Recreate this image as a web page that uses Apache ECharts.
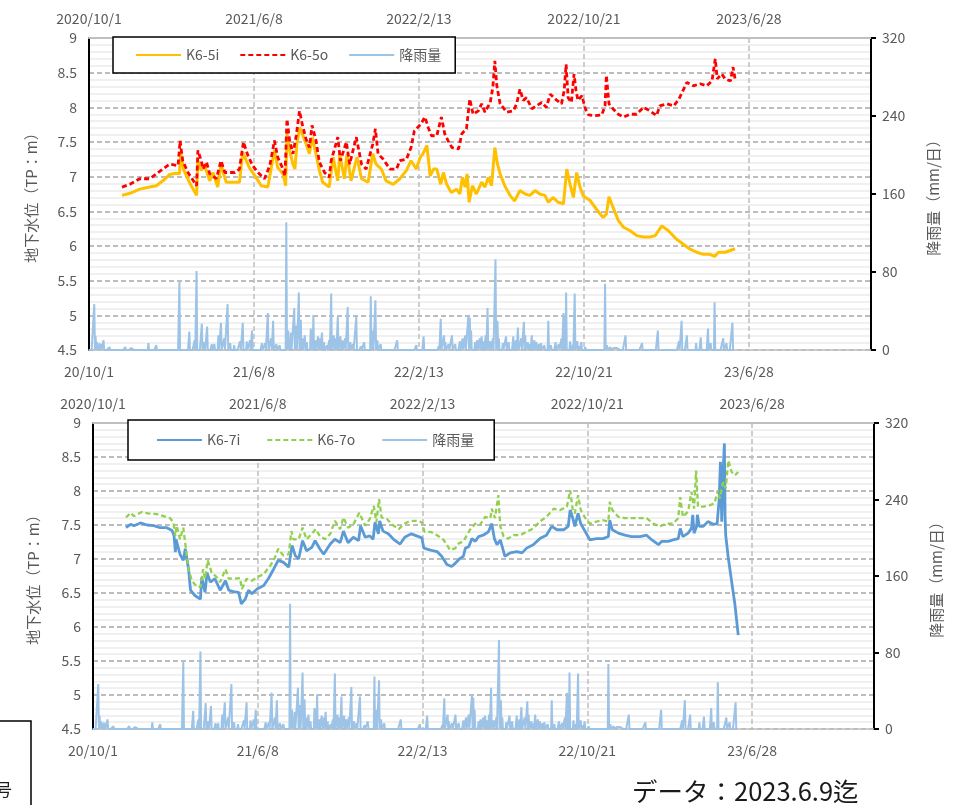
<!DOCTYPE html>
<html><head><meta charset="utf-8">
<script src="https://cdn.jsdelivr.net/npm/echarts@6/dist/echarts.min.js"></script>
<style>html,body{margin:0;padding:0;background:#fff;}#c{width:954px;height:805px;}</style>
</head><body><div id="c"></div><script>
// x values: days since 2020/10/1
const topTickLabels = ['2020/10/1','2021/6/8','2022/2/13','2022/10/21','2023/6/28'];
const bottomTickLabels = ['20/10/1','21/6/8','22/2/13','22/10/21','23/6/28'];
const levelTicks = [4.5,5,5.5,6,6.5,7,7.5,8,8.5,9];
const rainTicks = [0,80,160,240,320];

const k65i = [[50,6.73],[62,6.76],[77,6.82],[92,6.85],[102,6.87],[112,6.94],[122,7.03],[132,7.05],[137,7.04],[139,7.35],[143,7.11],[152,6.92],[163,6.73],[165,7.23],[170,7.09],[175,7.16],[183,6.94],[188,7.06],[195,6.85],[200,7.18],[205,7.01],[208,6.92],[228,6.92],[233,7.35],[243,7.13],[253,6.99],[261,6.87],[271,6.85],[281,7.38],[286,7.13],[294,7.04],[298,6.87],[300,7.62],[304,7.38],[309,7.18],[312,7.11],[315,7.47],[319,7.71],[323,7.62],[329,7.47],[334,7.33],[338,7.57],[344,7.33],[349,7.09],[354,6.92],[364,6.85],[370,7.28],[377,6.94],[380,7.33],[387,6.97],[391,7.33],[397,6.94],[406,7.28],[413,6.97],[423,6.92],[430,7.33],[435,7.18],[443,7.11],[450,6.94],[461,6.89],[471,6.97],[481,7.09],[488,7.23],[496,7.11],[502,7.28],[506,7.33],[509,7.33],[512,7.45],[517,7.01],[522,7.11],[527,7.11],[533,6.89],[537,7.06],[542,6.89],[549,6.77],[557,6.82],[562,6.75],[566,6.99],[570,6.85],[573,7.04],[576,6.63],[581,6.87],[587,6.75],[595,6.92],[600,6.85],[605,6.99],[610,6.87],[615,7.42],[619,7.18],[623,7.04],[630,6.87],[638,6.73],[645,6.65],[653,6.80],[661,6.75],[668,6.73],[676,6.80],[683,6.75],[691,6.73],[696,6.63],[703,6.70],[711,6.63],[719,6.61],[724,7.11],[729,6.89],[734,6.70],[739,7.06],[744,6.85],[749,6.72],[759,6.66],[769,6.53],[779,6.41],[784,6.46],[788,6.71],[794,6.56],[802,6.37],[810,6.27],[820,6.22],[830,6.15],[840,6.13],[850,6.13],[858,6.15],[868,6.29],[878,6.22],[890,6.10],[900,6.03],[910,5.96],[921,5.91],[931,5.88],[941,5.88],[948,5.85],[954,5.91],[964,5.91],[979,5.96]];

const k65o = [[50,6.85],[62,6.89],[77,6.97],[92,6.97],[102,7.04],[112,7.11],[122,7.18],[135,7.16],[138,7.52],[142,7.23],[150,7.06],[163,6.87],[165,7.38],[170,7.23],[173,7.11],[178,7.21],[183,7.04],[193,6.97],[200,7.23],[206,7.06],[221,7.06],[228,7.11],[234,7.50],[241,7.30],[248,7.16],[256,7.06],[266,6.97],[274,7.16],[281,7.52],[286,7.28],[293,7.13],[297,7.01],[300,7.83],[304,7.52],[309,7.33],[314,7.59],[319,7.95],[323,7.76],[329,7.54],[334,7.42],[338,7.74],[344,7.52],[349,7.21],[357,7.06],[364,6.99],[367,7.23],[377,7.57],[381,7.23],[390,7.50],[395,7.18],[405,7.57],[413,7.18],[420,7.11],[430,7.47],[434,7.69],[438,7.33],[446,7.25],[456,7.11],[466,7.11],[471,7.23],[481,7.25],[488,7.42],[493,7.66],[503,7.76],[509,7.86],[514,7.71],[519,7.59],[527,7.59],[534,7.86],[539,7.62],[544,7.52],[550,7.42],[560,7.40],[565,7.62],[572,7.69],[577,8.12],[582,7.90],[590,7.95],[595,8.05],[600,7.93],[608,8.07],[612,8.29],[615,8.67],[618,8.31],[623,8.05],[633,7.93],[643,7.95],[648,8.05],[653,8.26],[658,8.10],[663,8.14],[671,7.98],[678,8.02],[686,8.07],[693,8.00],[699,8.19],[709,8.10],[716,8.05],[720,8.24],[723,8.62],[726,8.14],[731,8.07],[735,8.48],[738,8.24],[741,8.10],[747,8.17],[752,7.98],[757,7.89],[767,7.88],[777,7.89],[782,8.02],[784,8.46],[788,8.05],[794,7.98],[802,7.90],[810,7.86],[820,7.90],[830,7.90],[840,8.00],[850,7.95],[860,7.88],[865,8.02],[876,8.05],[886,8.02],[894,8.12],[901,8.26],[906,8.36],[916,8.31],[926,8.34],[936,8.31],[944,8.38],[949,8.70],[952,8.41],[959,8.48],[964,8.41],[972,8.38],[976,8.58],[979,8.41]];

const k67i = [[50,7.46],[57,7.51],[62,7.49],[72,7.53],[82,7.50],[92,7.49],[102,7.46],[112,7.46],[120,7.42],[123,7.34],[125,7.10],[126,7.29],[132,7.07],[137,6.98],[140,7.15],[145,6.85],[148,6.54],[155,6.46],[163,6.41],[165,6.73],[170,6.51],[173,6.80],[178,6.66],[185,6.71],[193,6.54],[201,6.68],[206,6.54],[213,6.52],[221,6.51],[225,6.34],[231,6.41],[236,6.54],[241,6.49],[249,6.56],[259,6.61],[266,6.71],[274,6.85],[281,6.98],[289,6.95],[297,6.88],[302,7.20],[307,7.05],[312,7.00],[318,7.27],[324,7.12],[332,7.17],[337,7.27],[344,7.15],[350,7.07],[360,7.22],[367,7.29],[375,7.24],[380,7.41],[387,7.24],[395,7.32],[403,7.27],[406,7.49],[413,7.32],[420,7.34],[425,7.29],[428,7.54],[433,7.37],[435,7.56],[440,7.41],[448,7.37],[456,7.29],[466,7.22],[473,7.32],[483,7.37],[491,7.34],[499,7.31],[502,7.16],[512,7.13],[522,7.11],[529,7.04],[537,6.92],[544,6.89],[550,6.94],[557,7.01],[562,7.04],[565,7.16],[570,7.18],[575,7.30],[580,7.26],[585,7.33],[592,7.35],[600,7.40],[605,7.52],[609,7.30],[613,7.21],[618,7.28],[625,7.04],[633,7.09],[643,7.11],[651,7.09],[658,7.16],[668,7.21],[678,7.30],[688,7.35],[696,7.48],[704,7.43],[714,7.43],[721,7.48],[724,7.72],[728,7.60],[731,7.48],[736,7.67],[740,7.52],[747,7.40],[754,7.28],[764,7.30],[774,7.30],[782,7.33],[784,7.57],[788,7.43],[797,7.38],[807,7.35],[817,7.33],[830,7.33],[840,7.35],[848,7.28],[858,7.21],[863,7.26],[873,7.26],[880,7.28],[888,7.30],[891,7.45],[895,7.33],[903,7.38],[908,7.45],[910,7.65],[912,7.38],[916,7.48],[917,7.65],[920,7.48],[926,7.48],[933,7.55],[941,7.51],[947,7.52],[950,7.87],[952,8.43],[954,7.55],[956,8.28],[958,8.70],[959,7.65],[960,7.35],[964,7.01],[969,6.67],[974,6.33],[979,5.88]];

const k67o = [[50,7.61],[57,7.68],[62,7.63],[74,7.69],[84,7.67],[97,7.66],[107,7.63],[117,7.60],[122,7.54],[125,7.34],[127,7.49],[132,7.29],[137,7.46],[141,7.15],[145,6.85],[150,6.68],[158,6.59],[163,6.59],[167,6.85],[170,6.71],[174,6.98],[180,6.80],[188,6.73],[193,6.66],[201,6.85],[206,6.71],[213,6.71],[223,6.72],[226,6.56],[233,6.71],[241,6.68],[249,6.73],[259,6.78],[269,6.90],[276,7.02],[281,7.15],[289,7.05],[297,7.07],[301,7.41],[304,7.29],[312,7.29],[318,7.46],[324,7.29],[332,7.37],[338,7.44],[344,7.34],[352,7.29],[360,7.37],[367,7.56],[375,7.44],[380,7.61],[387,7.46],[395,7.51],[404,7.68],[413,7.49],[420,7.59],[426,7.78],[430,7.54],[434,7.88],[438,7.61],[446,7.59],[453,7.51],[464,7.44],[471,7.51],[481,7.56],[491,7.56],[499,7.54],[503,7.40],[512,7.40],[522,7.35],[532,7.28],[542,7.13],[550,7.16],[555,7.23],[562,7.26],[572,7.43],[580,7.52],[587,7.50],[595,7.62],[603,7.60],[605,7.74],[610,7.60],[615,7.94],[618,7.48],[623,7.33],[630,7.30],[638,7.35],[648,7.35],[658,7.40],[668,7.45],[678,7.55],[688,7.62],[699,7.74],[709,7.72],[719,7.77],[724,8.01],[728,7.72],[731,7.67],[736,7.94],[740,7.72],[747,7.60],[754,7.52],[764,7.55],[774,7.57],[782,7.55],[784,7.84],[788,7.72],[797,7.62],[807,7.60],[820,7.60],[830,7.60],[840,7.60],[850,7.52],[860,7.48],[870,7.52],[880,7.52],[888,7.60],[891,7.91],[895,7.62],[903,7.70],[908,7.99],[912,7.74],[915,8.30],[918,7.77],[926,7.77],[936,7.79],[943,7.82],[948,8.01],[951,7.89],[956,8.13],[960,8.04],[964,8.45],[969,8.28],[974,8.23],[979,8.28]];

// daily rainfall (mm/day); days not listed had no rain
const rainDays = [8,10,12,14,16,18,22,31,55,64,90,102,118,137,152,160,163,171,175,179,186,190,196,200,205,210,214,220,229,233,239,244,247,262,267,271,276,279,284,289,299,302,304,306,311,314,318,321,323,327,330,336,338,340,343,347,350,353,356,361,364,367,371,374,377,381,384,388,392,396,400,405,412,417,427,430,434,437,442,467,482,496,507,530,533,538,540,545,550,555,562,566,570,575,577,579,585,588,592,595,598,601,604,608,612,616,619,621,627,632,636,643,647,650,655,659,661,665,668,671,675,678,682,685,690,696,700,707,712,716,719,721,723,729,733,736,740,743,746,752,782,785,790,795,800,813,838,862,894,898,906,920,927,938,942,948,956,961,966,975];
const rainMm =   [47,14,8,5,7,6,10,3,3,2,7,5,1,70,19,10,81,27,8,24,6,6,15,28,12,47,7,5,9,28,9,10,20,7,7,38,12,30,6,5,131,20,10,18,43,25,59,31,12,15,8,22,20,36,10,14,12,18,8,5,10,58,15,12,34,14,10,12,44,8,6,34,4,8,55,20,51,10,6,10,1,5,14,4,32,15,8,6,15,6,9,12,15,36,33,20,8,10,12,14,9,15,43,9,12,93,30,12,7,14,8,14,10,23,12,29,15,8,6,15,10,8,6,7,5,30,5,8,6,12,38,35,59,9,5,58,9,4,8,3,68,5,3,2,2,15,7,20,9,30,15,7,13,22,7,49,2,12,7,28];
const RAIN_LAST_DAY = 979;

const rainMap = {};
rainDays.forEach((d, i) => { rainMap[d] = rainMm[i]; });
const rainSeries = [];
for (let d = 0; d <= RAIN_LAST_DAY; d++) rainSeries.push([d, rainMap[d] || 0]);

const FONT = '"Noto Sans CJK JP", "Noto Sans", sans-serif';
const GRAY = '#595959';
const DAY_MAX = 1185;

const grids = [
  {left: 89, right: 83, top: 38, height: 312},
  {left: 93, right: 80, top: 423, height: 306}
];

function xAxes(gi) {
  return [
    {type:'value', gridIndex:gi, position:'bottom', min:0, max:DAY_MAX, interval:250,
     axisLine:{show:true, onZero:false, lineStyle:{color:'#BFBFBF', width:1.5}},
     axisTick:{show:false},
     axisLabel:{color:GRAY, fontSize:14, fontFamily:FONT, margin:15, showMaxLabel:false,
       formatter: v => (v % 250 === 0 ? bottomTickLabels[v/250] || '' : '')},
     splitLine:{show:true, lineStyle:{type:[5,3], color:'#BFBFBF', width:1.5}}},
    {type:'value', gridIndex:gi, position:'top', min:0, max:DAY_MAX, interval:250,
     axisLine:{show:true, onZero:false, lineStyle:{color:'#BFBFBF', width:2}},
     axisTick:{show:false},
     axisLabel:{color:GRAY, fontSize:14, fontFamily:FONT, margin:12, showMaxLabel:false,
       formatter: v => (v % 250 === 0 ? topTickLabels[v/250] || '' : '')},
     splitLine:{show:false}}
  ];
}
function yAxes(gi, gapL, gapR) {
  return [
    {type:'value', gridIndex:gi, position:'left', min:levelTicks[0], max:levelTicks[levelTicks.length-1], interval:0.5,
     axisLine:{show:true, onZero:false, lineStyle:{color:'#000', width:2}},
     axisTick:{show:false},
     axisLabel:{color:GRAY, fontSize:14, fontFamily:FONT, margin:12, formatter: v => String(v)},
     splitLine:{show:true, lineStyle:{type:[5,3], color:'#A6A6A6', width:1.5}},
     minorTick:{show:false, splitNumber:5},
     minorSplitLine:{show:true, lineStyle:{color:'#EBEBEB', width:1.5}},
     name:'地下水位（TP：m）', nameLocation:'middle', nameGap:gapL, nameRotate:90,
     nameTextStyle:{color:GRAY, fontSize:15, fontFamily:FONT}},
    {type:'value', gridIndex:gi, position:'right', min:rainTicks[0], max:rainTicks[rainTicks.length-1], interval:80,
     axisLine:{show:true, onZero:false, lineStyle:{color:'#000', width:2}},
     axisTick:{show:true, inside:false, length:5, lineStyle:{color:'#000', width:2}},
     axisLabel:{color:GRAY, fontSize:14, fontFamily:FONT, margin:11},
     splitLine:{show:false},
     name:'降雨量（mm/日）', nameLocation:'middle', nameGap:gapR, nameRotate:90,
     nameTextStyle:{color:GRAY, fontSize:15, fontFamily:FONT}}
  ];
}

function lineSeries(name, data, xi, yi, color, width, dash, z) {
  return {name, type:'line', data, xAxisIndex:xi, yAxisIndex:yi, showSymbol:false, symbol:'none',
    lineStyle:{color, width, type:dash || 'solid'}, itemStyle:{color}, z, animation:false};
}

const legendBase = {
  orient:'horizontal', itemWidth:45, itemHeight:14, borderColor:'#000', borderWidth:1.5,
  backgroundColor:'#fff', borderRadius:0, selectedMode:false,
  itemStyle:{opacity:0, color:'transparent', borderWidth:0},
  textStyle:{color:GRAY, fontSize:14, fontFamily:FONT}
};

const option = {
  animation:false,
  backgroundColor:'#fff',
  grid: grids,
  xAxis: [...xAxes(0), ...xAxes(1)],
  yAxis: [...yAxes(0, 50, 55), ...yAxes(1, 52, 55)],
  legend: [
    Object.assign({}, legendBase, {left:113, top:37, itemGap:20, padding:[11,14,11,22],
      data:['K6-5i','K6-5o','降雨量']}),
    Object.assign({}, legendBase, {left:128, top:420, itemGap:26, padding:[13,20,13,28],
      data:['K6-7i','K6-7o','降雨量']})
  ],
  series: [
    lineSeries('降雨量', rainSeries, 0, 1, '#9DC3E6', 2, null, 2),
    lineSeries('K6-5i', k65i, 0, 0, '#FFC000', 3, null, 3),
    lineSeries('K6-5o', k65o, 0, 0, '#FF0000', 2.8, [5,3], 4),
    lineSeries('降雨量', rainSeries, 2, 3, '#9DC3E6', 2, null, 2),
    lineSeries('K6-7i', k67i, 2, 2, '#5B9BD5', 2.8, null, 3),
    lineSeries('K6-7o', k67o, 2, 2, '#92D050', 2.3, [5,3], 4)
  ],
  graphic: [
    {type:'text', left:632, top:779, style:{text:'データ：2023.6.9迄', fontSize:25.5, fontFamily:FONT, fill:'#1a1a1a'}},
    {type:'rect', shape:{x:-2, y:721, width:33, height:100}, style:{fill:'none', stroke:'#000', lineWidth:1.5}},
    {type:'text', left:-5, top:781, style:{text:'号', fontSize:17, fontFamily:FONT, fill:'#1a1a1a'}}
  ]
};

const chart = echarts.init(document.getElementById('c'), null, {renderer:'canvas'});
chart.setOption(option);
</script></body></html>
